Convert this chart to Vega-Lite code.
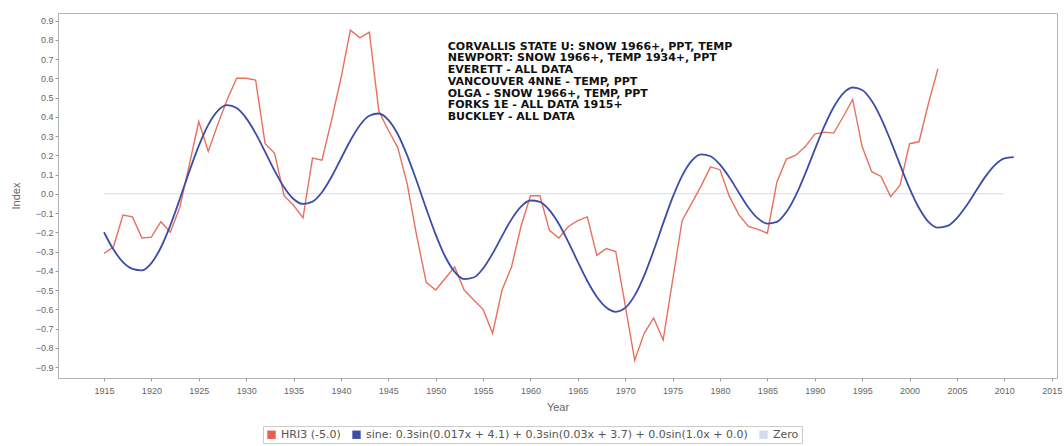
{
  "$schema": "https://vega.github.io/schema/vega-lite/v6.json",
  "width": 999,
  "height": 365,
  "autosize": "none",
  "padding": {"left": 58, "top": 13, "right": 7, "bottom": 68},
  "background": "white",
  "config": {
    "view": {"stroke": "#b5b5b5", "strokeWidth": 1},
    "axis": {
      "domain": false,
      "grid": false,
      "tickColor": "#999999",
      "tickSize": 3,
      "labelColor": "#666666",
      "labelFont": "Liberation Sans",
      "labelFontSize": 9,
      "titleColor": "#666666",
      "titleFont": "Liberation Sans",
      "titleFontSize": 11,
      "titleFontWeight": "normal"
    }
  },
  "data": {
    "values": [
      {"series": "Zero", "year": 1915, "value": 0},
      {"series": "Zero", "year": 2010, "value": 0},
      {"series": "HRI3 (-5.0)", "year": 1915, "value": -0.31},
      {"series": "HRI3 (-5.0)", "year": 1916, "value": -0.275},
      {"series": "HRI3 (-5.0)", "year": 1917, "value": -0.11},
      {"series": "HRI3 (-5.0)", "year": 1918, "value": -0.12},
      {"series": "HRI3 (-5.0)", "year": 1919, "value": -0.23},
      {"series": "HRI3 (-5.0)", "year": 1920, "value": -0.225},
      {"series": "HRI3 (-5.0)", "year": 1921, "value": -0.145},
      {"series": "HRI3 (-5.0)", "year": 1922, "value": -0.2},
      {"series": "HRI3 (-5.0)", "year": 1923, "value": -0.07},
      {"series": "HRI3 (-5.0)", "year": 1924, "value": 0.15},
      {"series": "HRI3 (-5.0)", "year": 1925, "value": 0.375},
      {"series": "HRI3 (-5.0)", "year": 1926, "value": 0.22},
      {"series": "HRI3 (-5.0)", "year": 1927, "value": 0.36},
      {"series": "HRI3 (-5.0)", "year": 1928, "value": 0.49},
      {"series": "HRI3 (-5.0)", "year": 1929, "value": 0.6},
      {"series": "HRI3 (-5.0)", "year": 1930, "value": 0.6},
      {"series": "HRI3 (-5.0)", "year": 1931, "value": 0.59},
      {"series": "HRI3 (-5.0)", "year": 1932, "value": 0.26},
      {"series": "HRI3 (-5.0)", "year": 1933, "value": 0.21},
      {"series": "HRI3 (-5.0)", "year": 1934, "value": -0.01},
      {"series": "HRI3 (-5.0)", "year": 1935, "value": -0.06},
      {"series": "HRI3 (-5.0)", "year": 1936, "value": -0.125},
      {"series": "HRI3 (-5.0)", "year": 1937, "value": 0.185},
      {"series": "HRI3 (-5.0)", "year": 1938, "value": 0.175},
      {"series": "HRI3 (-5.0)", "year": 1939, "value": 0.38},
      {"series": "HRI3 (-5.0)", "year": 1940, "value": 0.6},
      {"series": "HRI3 (-5.0)", "year": 1941, "value": 0.85},
      {"series": "HRI3 (-5.0)", "year": 1942, "value": 0.81},
      {"series": "HRI3 (-5.0)", "year": 1943, "value": 0.84},
      {"series": "HRI3 (-5.0)", "year": 1944, "value": 0.43},
      {"series": "HRI3 (-5.0)", "year": 1945, "value": 0.33},
      {"series": "HRI3 (-5.0)", "year": 1946, "value": 0.24},
      {"series": "HRI3 (-5.0)", "year": 1947, "value": 0.05},
      {"series": "HRI3 (-5.0)", "year": 1948, "value": -0.22},
      {"series": "HRI3 (-5.0)", "year": 1949, "value": -0.46},
      {"series": "HRI3 (-5.0)", "year": 1950, "value": -0.5},
      {"series": "HRI3 (-5.0)", "year": 1951, "value": -0.44},
      {"series": "HRI3 (-5.0)", "year": 1952, "value": -0.38},
      {"series": "HRI3 (-5.0)", "year": 1953, "value": -0.5},
      {"series": "HRI3 (-5.0)", "year": 1954, "value": -0.55},
      {"series": "HRI3 (-5.0)", "year": 1955, "value": -0.6},
      {"series": "HRI3 (-5.0)", "year": 1956, "value": -0.725},
      {"series": "HRI3 (-5.0)", "year": 1957, "value": -0.5},
      {"series": "HRI3 (-5.0)", "year": 1958, "value": -0.38},
      {"series": "HRI3 (-5.0)", "year": 1959, "value": -0.17},
      {"series": "HRI3 (-5.0)", "year": 1960, "value": -0.01},
      {"series": "HRI3 (-5.0)", "year": 1961, "value": -0.01},
      {"series": "HRI3 (-5.0)", "year": 1962, "value": -0.19},
      {"series": "HRI3 (-5.0)", "year": 1963, "value": -0.23},
      {"series": "HRI3 (-5.0)", "year": 1964, "value": -0.17},
      {"series": "HRI3 (-5.0)", "year": 1965, "value": -0.14},
      {"series": "HRI3 (-5.0)", "year": 1966, "value": -0.12},
      {"series": "HRI3 (-5.0)", "year": 1967, "value": -0.32},
      {"series": "HRI3 (-5.0)", "year": 1968, "value": -0.285},
      {"series": "HRI3 (-5.0)", "year": 1969, "value": -0.3},
      {"series": "HRI3 (-5.0)", "year": 1970, "value": -0.58},
      {"series": "HRI3 (-5.0)", "year": 1971, "value": -0.865},
      {"series": "HRI3 (-5.0)", "year": 1972, "value": -0.725},
      {"series": "HRI3 (-5.0)", "year": 1973, "value": -0.645},
      {"series": "HRI3 (-5.0)", "year": 1974, "value": -0.76},
      {"series": "HRI3 (-5.0)", "year": 1975, "value": -0.45},
      {"series": "HRI3 (-5.0)", "year": 1976, "value": -0.14},
      {"series": "HRI3 (-5.0)", "year": 1977, "value": -0.05},
      {"series": "HRI3 (-5.0)", "year": 1978, "value": 0.04},
      {"series": "HRI3 (-5.0)", "year": 1979, "value": 0.14},
      {"series": "HRI3 (-5.0)", "year": 1980, "value": 0.125},
      {"series": "HRI3 (-5.0)", "year": 1981, "value": -0.015},
      {"series": "HRI3 (-5.0)", "year": 1982, "value": -0.11},
      {"series": "HRI3 (-5.0)", "year": 1983, "value": -0.17},
      {"series": "HRI3 (-5.0)", "year": 1984, "value": -0.185},
      {"series": "HRI3 (-5.0)", "year": 1985, "value": -0.205},
      {"series": "HRI3 (-5.0)", "year": 1986, "value": 0.06},
      {"series": "HRI3 (-5.0)", "year": 1987, "value": 0.18},
      {"series": "HRI3 (-5.0)", "year": 1988, "value": 0.2},
      {"series": "HRI3 (-5.0)", "year": 1989, "value": 0.245},
      {"series": "HRI3 (-5.0)", "year": 1990, "value": 0.31},
      {"series": "HRI3 (-5.0)", "year": 1991, "value": 0.32},
      {"series": "HRI3 (-5.0)", "year": 1992, "value": 0.315},
      {"series": "HRI3 (-5.0)", "year": 1993, "value": 0.4},
      {"series": "HRI3 (-5.0)", "year": 1994, "value": 0.49},
      {"series": "HRI3 (-5.0)", "year": 1995, "value": 0.245},
      {"series": "HRI3 (-5.0)", "year": 1996, "value": 0.115},
      {"series": "HRI3 (-5.0)", "year": 1997, "value": 0.09},
      {"series": "HRI3 (-5.0)", "year": 1998, "value": -0.015},
      {"series": "HRI3 (-5.0)", "year": 1999, "value": 0.045},
      {"series": "HRI3 (-5.0)", "year": 2000, "value": 0.26},
      {"series": "HRI3 (-5.0)", "year": 2001, "value": 0.27},
      {"series": "HRI3 (-5.0)", "year": 2002, "value": 0.47},
      {"series": "HRI3 (-5.0)", "year": 2003, "value": 0.65},
      {"series": "sine", "year": 1915, "value": -0.2},
      {"series": "sine", "year": 1916, "value": -0.29},
      {"series": "sine", "year": 1917, "value": -0.355},
      {"series": "sine", "year": 1918, "value": -0.39},
      {"series": "sine", "year": 1919, "value": -0.398},
      {"series": "sine", "year": 1920, "value": -0.36},
      {"series": "sine", "year": 1921, "value": -0.279},
      {"series": "sine", "year": 1922, "value": -0.164},
      {"series": "sine", "year": 1923, "value": -0.027},
      {"series": "sine", "year": 1924, "value": 0.116},
      {"series": "sine", "year": 1925, "value": 0.249},
      {"series": "sine", "year": 1926, "value": 0.358},
      {"series": "sine", "year": 1927, "value": 0.431},
      {"series": "sine", "year": 1928, "value": 0.46},
      {"series": "sine", "year": 1929, "value": 0.445},
      {"series": "sine", "year": 1930, "value": 0.393},
      {"series": "sine", "year": 1931, "value": 0.314},
      {"series": "sine", "year": 1932, "value": 0.218},
      {"series": "sine", "year": 1933, "value": 0.12},
      {"series": "sine", "year": 1934, "value": 0.034},
      {"series": "sine", "year": 1935, "value": -0.027},
      {"series": "sine", "year": 1936, "value": -0.053},
      {"series": "sine", "year": 1937, "value": -0.041},
      {"series": "sine", "year": 1938, "value": 0.008},
      {"series": "sine", "year": 1939, "value": 0.087},
      {"series": "sine", "year": 1940, "value": 0.182},
      {"series": "sine", "year": 1941, "value": 0.277},
      {"series": "sine", "year": 1942, "value": 0.356},
      {"series": "sine", "year": 1943, "value": 0.405},
      {"series": "sine", "year": 1944, "value": 0.417},
      {"series": "sine", "year": 1945, "value": 0.384},
      {"series": "sine", "year": 1946, "value": 0.309},
      {"series": "sine", "year": 1947, "value": 0.198},
      {"series": "sine", "year": 1948, "value": 0.065},
      {"series": "sine", "year": 1949, "value": -0.077},
      {"series": "sine", "year": 1950, "value": -0.212},
      {"series": "sine", "year": 1951, "value": -0.326},
      {"series": "sine", "year": 1952, "value": -0.406},
      {"series": "sine", "year": 1953, "value": -0.443},
      {"series": "sine", "year": 1954, "value": -0.435},
      {"series": "sine", "year": 1955, "value": -0.388},
      {"series": "sine", "year": 1956, "value": -0.311},
      {"series": "sine", "year": 1957, "value": -0.22},
      {"series": "sine", "year": 1958, "value": -0.133},
      {"series": "sine", "year": 1959, "value": -0.067},
      {"series": "sine", "year": 1960, "value": -0.035},
      {"series": "sine", "year": 1961, "value": -0.042},
      {"series": "sine", "year": 1962, "value": -0.085},
      {"series": "sine", "year": 1963, "value": -0.157},
      {"series": "sine", "year": 1964, "value": -0.251},
      {"series": "sine", "year": 1965, "value": -0.354},
      {"series": "sine", "year": 1966, "value": -0.453},
      {"series": "sine", "year": 1967, "value": -0.535},
      {"series": "sine", "year": 1968, "value": -0.591},
      {"series": "sine", "year": 1969, "value": -0.613},
      {"series": "sine", "year": 1970, "value": -0.593},
      {"series": "sine", "year": 1971, "value": -0.528},
      {"series": "sine", "year": 1972, "value": -0.425},
      {"series": "sine", "year": 1973, "value": -0.295},
      {"series": "sine", "year": 1974, "value": -0.154},
      {"series": "sine", "year": 1975, "value": -0.019},
      {"series": "sine", "year": 1976, "value": 0.093},
      {"series": "sine", "year": 1977, "value": 0.171},
      {"series": "sine", "year": 1978, "value": 0.205},
      {"series": "sine", "year": 1979, "value": 0.195},
      {"series": "sine", "year": 1980, "value": 0.151},
      {"series": "sine", "year": 1981, "value": 0.084},
      {"series": "sine", "year": 1982, "value": 0.005},
      {"series": "sine", "year": 1983, "value": -0.071},
      {"series": "sine", "year": 1984, "value": -0.128},
      {"series": "sine", "year": 1985, "value": -0.155},
      {"series": "sine", "year": 1986, "value": -0.146},
      {"series": "sine", "year": 1987, "value": -0.095},
      {"series": "sine", "year": 1988, "value": -0.008},
      {"series": "sine", "year": 1989, "value": 0.105},
      {"series": "sine", "year": 1990, "value": 0.229},
      {"series": "sine", "year": 1991, "value": 0.35},
      {"series": "sine", "year": 1992, "value": 0.451},
      {"series": "sine", "year": 1993, "value": 0.522},
      {"series": "sine", "year": 1994, "value": 0.552},
      {"series": "sine", "year": 1995, "value": 0.539},
      {"series": "sine", "year": 1996, "value": 0.483},
      {"series": "sine", "year": 1997, "value": 0.392},
      {"series": "sine", "year": 1998, "value": 0.276},
      {"series": "sine", "year": 1999, "value": 0.15},
      {"series": "sine", "year": 2000, "value": 0.028},
      {"series": "sine", "year": 2001, "value": -0.074},
      {"series": "sine", "year": 2002, "value": -0.146},
      {"series": "sine", "year": 2003, "value": -0.176},
      {"series": "sine", "year": 2004, "value": -0.167},
      {"series": "sine", "year": 2005, "value": -0.126},
      {"series": "sine", "year": 2006, "value": -0.062},
      {"series": "sine", "year": 2007, "value": 0.014},
      {"series": "sine", "year": 2008, "value": 0.089},
      {"series": "sine", "year": 2009, "value": 0.149},
      {"series": "sine", "year": 2010, "value": 0.184},
      {"series": "sine", "year": 2011, "value": 0.19}
    ]
  },
  "encoding": {
    "x": {
      "field": "year",
      "type": "quantitative",
      "scale": {"domain": [1910.146, 2015.56], "nice": false, "zero": false},
      "axis": {
        "title": "Year",
        "values": [1915, 1920, 1925, 1930, 1935, 1940, 1945, 1950, 1955, 1960, 1965, 1970, 1975, 1980, 1985, 1990, 1995, 2000, 2005, 2010, 2015],
        "format": "d",
        "labelPadding": 5,
        "titlePadding": 6
      }
    },
    "y": {
      "field": "value",
      "type": "quantitative",
      "scale": {"domain": [-0.957, 0.939], "nice": false, "zero": false},
      "axis": {
        "title": "Index",
        "values": [-0.9, -0.8, -0.7, -0.6, -0.5, -0.4, -0.3, -0.2, -0.1, 0, 0.1, 0.2, 0.3, 0.4, 0.5, 0.6, 0.7, 0.8, 0.9],
        "format": ".1f",
        "labelPadding": 2,
        "titlePadding": 14
      }
    },
    "color": {
      "field": "series",
      "type": "nominal",
      "scale": {
        "domain": ["HRI3 (-5.0)", "sine", "Zero"],
        "range": ["#e5604d", "#3c4da6", "#d6daee"]
      },
      "legend": {
        "orient": "none",
        "legendX": 205,
        "legendY": 413,
        "direction": "horizontal",
        "title": null,
        "symbolType": "square",
        "symbolSize": 70,
        "symbolStrokeWidth": 0,
        "labelFont": "DejaVu Sans",
        "labelFontSize": 11,
        "labelColor": "#555555",
        "labelLimit": 700,
        "labelExpr": "datum.value == 'sine' ? 'sine: 0.3sin(0.017x + 4.1) + 0.3sin(0.03x + 3.7) + 0.0sin(1.0x + 0.0)' : datum.value",
        "columnPadding": 10,
        "strokeColor": "#cccccc",
        "padding": 3,
        "encode": {
          "symbols": {"update": {"fill": {"scale": "color", "field": "value"}, "fillOpacity": {"value": 1}}}
        }
      }
    }
  },
  "layer": [
    {
      "transform": [{"filter": "datum.series == 'Zero'"}],
      "mark": {"type": "line", "strokeWidth": 1.2}
    },
    {
      "transform": [{"filter": "datum.series == 'HRI3 (-5.0)'"}],
      "mark": {"type": "line", "strokeWidth": 1.4, "strokeOpacity": 0.9}
    },
    {
      "transform": [{"filter": "datum.series == 'sine'"}],
      "mark": {"type": "line", "strokeWidth": 1.8, "interpolate": "monotone"}
    },
    {
      "data": {
        "values": [
          {"year": 1951.27, "value": 0.795, "label": ["CORVALLIS STATE U: SNOW 1966+, PPT, TEMP", "NEWPORT: SNOW 1966+, TEMP 1934+, PPT", "EVERETT - ALL DATA", "VANCOUVER 4NNE - TEMP, PPT", "OLGA - SNOW 1966+, TEMP, PPT", "FORKS 1E - ALL DATA 1915+", "BUCKLEY - ALL DATA"]}
        ]
      },
      "mark": {
        "type": "text",
        "align": "left",
        "baseline": "top",
        "font": "DejaVu Sans",
        "fontWeight": "bold",
        "fontSize": 11,
        "lineHeight": 11.7,
        "color": "#111111"
      },
      "encoding": {
        "x": {"field": "year", "type": "quantitative"},
        "y": {"field": "value", "type": "quantitative"},
        "text": {"field": "label"},
        "color": {"value": "#111111"}
      }
    }
  ]
}
